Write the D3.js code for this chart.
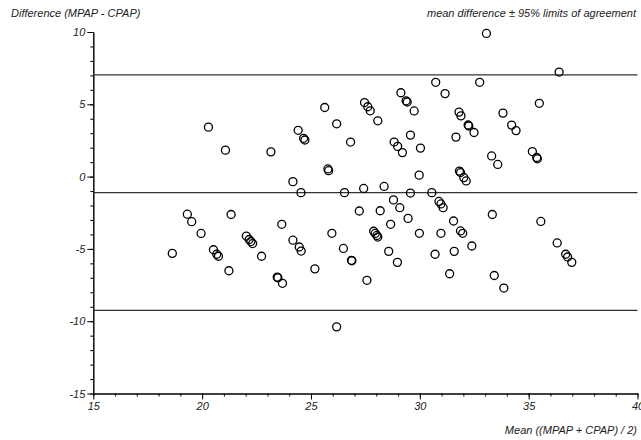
<!DOCTYPE html>
<html>
<head>
<meta charset="utf-8">
<script src="https://cdn.jsdelivr.net/npm/d3@7"></script>
<style>
  body { margin: 0; background: #fff; }
  text { font-family: "Liberation Sans", Arial, sans-serif; font-style: italic; font-size: 11px; fill: #222; }
</style>
</head>
<body>
<script>
let w = 641;
let h = 440;

// average of the two methods (x) and their difference (y)
let meanVals = [18.63,19.32,19.52,19.95,20.29,20.52,20.67,20.75,21.07,21.23,21.33,22.03,22.16,22.24,22.32,22.73,23.16,23.45,23.48,23.69,
  23.66,24.17,24.17,24.41,24.46,24.54,24.55,24.66,24.72,25.18,25.63,25.78,25.81,25.96,26.18,26.18,26.49,26.54,26.82,26.86,
  26.88,27.22,27.42,27.46,27.57,27.61,27.72,27.88,27.95,28.03,28.07,28.07,28.18,28.36,28.57,28.66,28.79,28.82,28.98,28.97,
  29.08,29.13,29.20,29.37,29.42,29.46,29.57,29.57,29.74,29.97,29.98,30.03,30.55,30.73,30.70,30.88,30.97,31.07,30.97,31.16,
  31.37,31.55,31.58,31.66,31.80,31.89,31.82,31.87,32.02,32.13,31.87,31.97,32.22,32.25,32.39,32.49,32.75,33.06,33.30,33.33,
  33.42,33.58,33.82,33.86,34.22,34.42,35.17,35.37,35.40,35.49,35.56,36.31,36.40,36.70,36.79,36.98];
let diffVals = [-5.31,-2.60,-3.12,-3.93,3.42,-5.06,-5.37,-5.51,1.83,-6.51,-2.62,-4.11,-4.35,-4.49,-4.63,-5.51,1.71,-6.95,-7.00,-7.38,
  -3.30,-0.35,-4.40,3.20,-4.87,-1.11,-5.15,2.65,2.53,-6.38,4.78,0.53,0.41,-3.92,3.65,-10.39,-4.97,-1.11,2.39,-5.79,
  -5.82,-2.38,-0.82,5.12,-7.17,4.83,4.55,-3.78,-3.93,-4.07,-4.18,3.86,-2.36,-0.68,-5.17,-3.30,-1.61,2.39,2.09,-5.93,
  -2.15,5.80,1.66,5.24,5.16,-2.89,2.87,-1.14,4.54,0.10,-3.92,1.97,-1.11,6.52,-5.37,-1.72,-1.89,-2.15,-3.92,5.74,
  -6.72,-3.07,-5.17,2.73,4.46,4.20,0.38,0.28,-0.07,-0.30,-3.76,-3.92,3.57,3.50,-4.80,3.05,6.52,9.90,1.43,-2.62,
  -6.84,0.84,4.39,-7.71,3.56,3.18,1.73,1.32,1.23,5.07,-3.10,-4.59,7.23,-5.37,-5.56,-5.93];

// upper limit, mean difference, lower limit
let limits = [7.04, -1.11, -9.25];

let xTicks = [15, 20, 25, 30, 35, 40];
let yTicks = [-15, -10, -5, 0, 5, 10];

let x = d3.scaleLinear().domain([15, 40]).range([93.3, 637.5]);
let y = d3.scaleLinear().domain([-15, 10]).range([393.5, 32]);

let svg = d3.select("body")
            .append("svg")
            .attr("width", w)
            .attr("height", h);

// minor ticks first, then the major ones with labels
svg.append("g")
  .attr("transform", "translate(0," + y(-15) + ")")
  .call(d3.axisBottom(x).tickValues(d3.range(15, 41, 1)).tickSize(3).tickSizeOuter(0).tickFormat(""));
svg.append("g")
  .attr("transform", "translate(" + x(15) + ",0)")
  .call(d3.axisLeft(y).tickValues(d3.range(-15, 11, 1)).tickSize(3).tickSizeOuter(0).tickFormat(""));

svg.append("g")
  .attr("transform", "translate(0," + y(-15) + ")")
  .call(d3.axisBottom(x).tickValues(xTicks).tickSize(6).tickSizeOuter(0).tickPadding(3).tickFormat(d => String(d)));
svg.append("g")
  .attr("transform", "translate(" + x(15) + ",0)")
  .call(d3.axisLeft(y).tickValues(yTicks).tickSize(6).tickSizeOuter(0).tickPadding(2).tickFormat(d => String(d))); // plain hyphen like the original

svg.selectAll(".tick text").attr("font-family", null).attr("font-size", null).attr("fill", null);
svg.selectAll(".domain, .tick line").attr("stroke", "#000");

svg.selectAll("line.limit")
  .data(limits)
  .enter()
  .append("line")
    .attr("class", "limit")
    .attr("x1", x(15))
    .attr("x2", x(40))
    .attr("y1", d => y(d))
    .attr("y2", d => y(d))
    .attr("stroke", "#333")
    .attr("stroke-width", 1.2);

svg.selectAll("circle")
  .data(meanVals)
  .enter()
  .append("circle")
    .attr("cx", d => x(d))
    .attr("cy", (d, i) => y(diffVals[i]))
    .attr("r", 4)
    .attr("fill", "none")
    .attr("stroke", "#000")
    .attr("stroke-width", 1.3);

svg.append("text").attr("x", 11).attr("y", 17).text("Difference (MPAP - CPAP)");
svg.append("text").attr("x", 636).attr("y", 17).attr("text-anchor", "end")
  .text("mean difference \u00b1 95% limits of agreement");
svg.append("text").attr("x", 637).attr("y", 434).attr("text-anchor", "end")
  .text("Mean ((MPAP + CPAP) / 2)");
</script>
</body>
</html>
